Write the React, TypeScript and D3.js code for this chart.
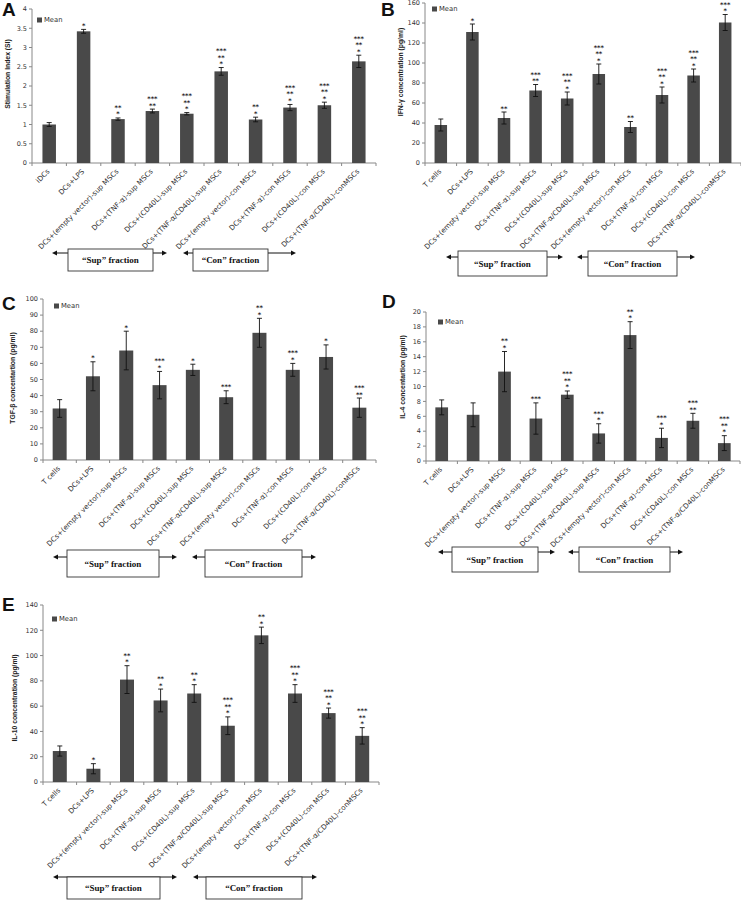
import React from "react";
import * as d3 from "d3";

const categoriesA = [
  "iDCs",
  "DCs+LPS",
  "DCs+(empty vector)-sup MSCs",
  "DCs+(TNF-α)-sup MSCs",
  "DCs+(CD40L)-sup MSCs",
  "DCs+(TNF-α/CD40L)-sup MSCs",
  "DCs+(empty vector)-con MSCs",
  "DCs+(TNF-α)-con MSCs",
  "DCs+(CD40L)-con MSCs",
  "DCs+(TNF-α/CD40L)-conMSCs",
];
const categoriesT = ["T cells", ...categoriesA.slice(1)];

// A: Stimulation index
const valuesA = [1.0, 3.42, 1.14, 1.35, 1.28, 2.38, 1.13, 1.44, 1.5, 2.64];
const errorsA = [0.05, 0.05, 0.03, 0.05, 0.03, 0.1, 0.06, 0.08, 0.08, 0.16];
const starsA = ["", "*", "**|*", "***|**", "***|**|*", "***|**|*", "**|*", "***|**|*", "***|**|*", "***|**|*"];
const ticksA = [0, 0.5, 1, 1.5, 2, 2.5, 3, 3.5, 4];

// B: IFN-γ
const valuesB = [38, 131, 45, 72.5, 64.5, 89, 36, 68, 87.5, 140.5];
const errorsB = [6, 8, 6, 6, 6.5, 10, 5.5, 8, 6.5, 8];
const starsB = ["", "*", "**", "***|**", "***|**|*", "***|**|*", "**", "***|**|*", "***|**|*", "***|*"];
const ticksB = [0, 20, 40, 60, 80, 100, 120, 140, 160];

// C: TGF-β
const valuesC = [32, 52, 68, 46.5, 56, 39, 79, 56, 64, 32.5];
const errorsC = [5.5, 9, 12, 8.5, 3.5, 4, 9, 4, 7.5, 6];
const starsC = ["", "*", "*", "***|*", "*", "***", "**|*", "***|*", "*", "***|**"];
const ticksC = [0, 10, 20, 30, 40, 50, 60, 70, 80, 90, 100];

// D: IL-4
const valuesD = [7.2, 6.2, 12, 5.7, 8.9, 3.7, 16.9, 3.1, 5.4, 2.4];
const errorsD = [1, 1.6, 2.7, 2.1, 0.5, 1.3, 1.8, 1.3, 1, 1];
const starsD = ["", "", "**|*", "***", "***|**|*", "***|*", "**|*", "***|*", "***|**", "***|**|*"];
const ticksD = [0, 2, 4, 6, 8, 10, 12, 14, 16, 18, 20];

// E: IL-10
const valuesE = [24.5, 10.5, 81, 64.5, 70, 44.5, 116, 70, 54.5, 36.5];
const errorsE = [4, 4, 11, 9, 7, 7, 6.5, 7, 4, 6.5];
const starsE = ["", "*", "**|*", "**|*", "**|*", "***|**|*", "**|*", "***|**|*", "***|**|*", "***|**|*"];
const ticksE = [0, 20, 40, 60, 80, 100, 120, 140];

const SANS = "'DejaVu Sans', 'Open Sans', sans-serif";
const BOLD_SANS = "'Liberation Sans', Arial, sans-serif";
const SERIF = "'Liberation Serif', 'DejaVu Serif', serif";
const BAR = "#494949";

type PanelCfg = {
  letter: string;
  letterX: number;
  letterY: number;
  cats: string[];
  values: number[];
  errors: number[];
  stars: string[];
  ticks: number[];
  xRange: [number, number];
  y0: number;
  yTop: number;
  barW: number;
  yLabel: string;
  yLabelX: number;
  yLabelY: number;
  legendX: number;
  legendY: number;
  arrowY: number;
  boxTop: number;
  boxBottom: number;
  sup: [number, number, number, number];
  con: [number, number, number, number];
};

const panels: PanelCfg[] = [
  {
    letter: "A", letterX: 2, letterY: 16,
    cats: categoriesA, values: valuesA, errors: errorsA, stars: starsA, ticks: ticksA,
    xRange: [32, 376], y0: 163, yTop: 9, barW: 13.5,
    yLabel: "Stimulation Index (SI)", yLabelX: 8, yLabelY: 74,
    legendX: 37, legendY: 20,
    arrowY: 253, boxTop: 249, boxBottom: 271,
    sup: [52, 167, 68, 153], con: [183, 296, 193, 268],
  },
  {
    letter: "B", letterX: 381, letterY: 16,
    cats: categoriesT, values: valuesB, errors: errorsB, stars: starsB, ticks: ticksB,
    xRange: [425, 741], y0: 163, yTop: 3, barW: 12.5,
    yLabel: "IFN-γ concentration (pg/ml)", yLabelX: 401, yLabelY: 72,
    legendX: 432, legendY: 9,
    arrowY: 257, boxTop: 251, boxBottom: 276,
    sup: [446, 563, 458, 547], con: [577, 695, 588, 677],
  },
  {
    letter: "C", letterX: 2, letterY: 310,
    cats: categoriesT, values: valuesC, errors: errorsC, stars: starsC, ticks: ticksC,
    xRange: [43, 376], y0: 460, yTop: 299, barW: 14,
    yLabel: "TGF-β concentartion (pg/ml)", yLabelX: 13, yLabelY: 378,
    legendX: 54, legendY: 306,
    arrowY: 557, boxTop: 550, boxBottom: 577,
    sup: [53, 177, 67, 159], con: [192, 316, 205, 302],
  },
  {
    letter: "D", letterX: 382, letterY: 308,
    cats: categoriesT, values: valuesD, errors: errorsD, stars: starsD, ticks: ticksD,
    xRange: [426, 740], y0: 461, yTop: 312, barW: 12.7,
    yLabel: "IL-4 concentartion (pg/ml)", yLabelX: 403, yLabelY: 377,
    legendX: 438, legendY: 322,
    arrowY: 552, boxTop: 547, boxBottom: 572,
    sup: [438, 555, 452, 538], con: [568, 683, 579, 670],
  },
  {
    letter: "E", letterX: 2, letterY: 611,
    cats: categoriesT, values: valuesE, errors: errorsE, stars: starsE, ticks: ticksE,
    xRange: [43, 379], y0: 782, yTop: 605, barW: 14,
    yLabel: "IL-10 concentration (pg/ml)", yLabelX: 15, yLabelY: 698,
    legendX: 52, legendY: 619,
    arrowY: 877, boxTop: 877, boxBottom: 899,
    sup: [53, 177, 67, 160], con: [193, 317, 206, 302],
  },
];

function Arrow({ x1, x2, y }: { x1: number; x2: number; y: number }) {
  return (
    <g>
      <line x1={x1 + 3} x2={x2 - 3} y1={y} y2={y} stroke="#111" strokeWidth={1} />
      <path d={`M${x1},${y} L${x1 + 5},${y - 2.5} L${x1 + 5},${y + 2.5} Z`} fill="#111" />
      <path d={`M${x2},${y} L${x2 - 5},${y - 2.5} L${x2 - 5},${y + 2.5} Z`} fill="#111" />
    </g>
  );
}

function Panel({ cfg }: { cfg: PanelCfg }) {
  const n = cfg.cats.length;
  const x = d3.scaleBand<number>().domain(d3.range(n)).range(cfg.xRange).padding(0);
  const yMax = cfg.ticks[cfg.ticks.length - 1];
  const y = d3.scaleLinear().domain([0, yMax]).range([cfg.y0, cfg.yTop]);
  const cx = (i: number) => (x(i) as number) + x.bandwidth() / 2;
  const axisX = cfg.xRange[0];
  const boxMid = (cfg.boxTop + cfg.boxBottom) / 2;
  return (
    <g>
      <text x={cfg.letterX} y={cfg.letterY} fontFamily={BOLD_SANS} fontWeight="bold" fontSize={19} fill="#111">
        {cfg.letter}
      </text>
      {/* y axis */}
      <line x1={axisX} x2={axisX} y1={cfg.y0} y2={cfg.yTop} stroke="#888" />
      {cfg.ticks.map((t) => (
        <g key={t}>
          <line x1={axisX - 3} x2={axisX} y1={y(t)} y2={y(t)} stroke="#888" />
          <text x={axisX - 5} y={y(t)} dy="0.35em" textAnchor="end" fontFamily={SANS} fontSize={6.5} fill="#333">
            {d3.format("~g")(t)}
          </text>
        </g>
      ))}
      <text
        transform={`translate(${cfg.yLabelX},${cfg.yLabelY}) rotate(-90)`}
        textAnchor="middle"
        dy="0.35em"
        fontFamily={BOLD_SANS}
        fontWeight="bold"
        fontSize={6.8}
        fill="#222"
      >
        {cfg.yLabel}
      </text>
      {/* x axis */}
      <line x1={axisX} x2={cfg.xRange[1]} y1={cfg.y0} y2={cfg.y0} stroke="#888" />
      {d3.range(n + 1).map((i) => {
        const xx = i < n ? (x(i) as number) : cfg.xRange[1];
        return <line key={i} x1={xx} x2={xx} y1={cfg.y0} y2={cfg.y0 + 3} stroke="#888" />;
      })}
      {/* bars */}
      {cfg.values.map((v, i) => (
        <rect key={i} x={cx(i) - cfg.barW / 2} y={y(v)} width={cfg.barW} height={cfg.y0 - y(v)} fill={BAR} />
      ))}
      {/* error bars */}
      {cfg.values.map((v, i) => {
        const e = cfg.errors[i];
        const top = y(v + e);
        const bot = y(Math.max(0, v - e));
        return (
          <g key={i} stroke="#111" strokeWidth={0.9}>
            <line x1={cx(i)} x2={cx(i)} y1={top} y2={bot} />
            <line x1={cx(i) - 2.5} x2={cx(i) + 2.5} y1={top} y2={top} />
            <line x1={cx(i) - 2.5} x2={cx(i) + 2.5} y1={bot} y2={bot} />
          </g>
        );
      })}
      {/* significance stars */}
      {cfg.stars.map((s, i) => {
        if (!s) return null;
        const lines = s.split("|");
        const top = y(cfg.values[i] + cfg.errors[i]);
        return (
          <g key={i}>
            {lines.map((l, j) => (
              <text
                key={j}
                x={cx(i)}
                y={top - 1.5 - (lines.length - 1 - j) * 6.5}
                textAnchor="middle"
                fontFamily={SANS}
                fontWeight="bold"
                fontSize={6.5}
                fill="#222"
              >
                {l}
              </text>
            ))}
          </g>
        );
      })}
      {/* category labels */}
      {cfg.cats.map((c, i) => (
        <text
          key={i}
          transform={`translate(${cx(i) + 1},${cfg.y0 + 9}) rotate(-45)`}
          textAnchor="end"
          fontFamily={SANS}
          fontSize={7.1}
          fill="#333"
        >
          {c}
        </text>
      ))}
      {/* legend */}
      <rect x={cfg.legendX} y={cfg.legendY - 2.5} width={5} height={5} fill={BAR} />
      <text x={cfg.legendX + 7} y={cfg.legendY} dy="0.35em" fontFamily={SANS} fontSize={6.8} fill="#333">
        Mean
      </text>
      {/* fraction brackets */}
      <Arrow x1={cfg.sup[0]} x2={cfg.sup[1]} y={cfg.arrowY} />
      <rect x={cfg.sup[2]} y={cfg.boxTop} width={cfg.sup[3] - cfg.sup[2]} height={cfg.boxBottom - cfg.boxTop} fill="#fff" stroke="#333" strokeWidth={0.9} />
      <text x={(cfg.sup[2] + cfg.sup[3]) / 2} y={boxMid} dy="0.35em" textAnchor="middle" fontFamily={SERIF} fontWeight="bold" fontSize={9} fill="#111">
        “Sup” fraction
      </text>
      <Arrow x1={cfg.con[0]} x2={cfg.con[1]} y={cfg.arrowY} />
      <rect x={cfg.con[2]} y={cfg.boxTop} width={cfg.con[3] - cfg.con[2]} height={cfg.boxBottom - cfg.boxTop} fill="#fff" stroke="#333" strokeWidth={0.9} />
      <text x={(cfg.con[2] + cfg.con[3]) / 2} y={boxMid} dy="0.35em" textAnchor="middle" fontFamily={SERIF} fontWeight="bold" fontSize={9} fill="#111">
        “Con” fraction
      </text>
    </g>
  );
}

export default function App() {
  return (
    <svg
      width={741}
      height={900}
      viewBox="0 0 741 900"
      style={{ position: "absolute", left: 0, top: 0, background: "#fff" }}
    >
      <rect width={741} height={900} fill="#fff" />
      {panels.map((p) => (
        <Panel key={p.letter} cfg={p} />
      ))}
    </svg>
  );
}
